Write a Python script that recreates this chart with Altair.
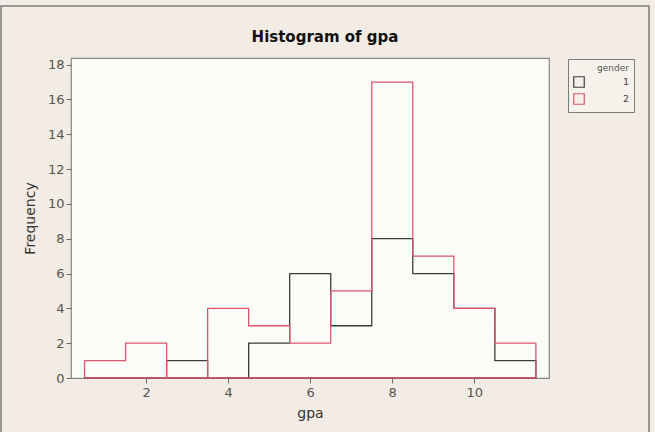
import altair as alt
import pandas as pd

# ---- data ----
bin_centers = [1, 2, 3, 4, 5, 6, 7, 8, 9, 10, 11]
bin_width = 1.0
gender_1 = [0, 0, 1, 0, 2, 6, 3, 8, 6, 4, 1]
gender_2 = [1, 2, 0, 4, 3, 2, 5, 17, 7, 4, 2]
genders = ["1", "2"]
x_ticks = [2, 4, 6, 8, 10]
y_ticks = [0, 2, 4, 6, 8, 10, 12, 14, 16, 18]

W, H = 478, 320

def outline(values, g):
    """Closed step outline of a histogram (left edge, value) rows."""
    rows = []
    lefts = [c - bin_width / 2 for c in bin_centers]
    right = bin_centers[-1] + bin_width / 2
    rows.append((lefts[0], 0))
    for l, v in zip(lefts, values):
        rows.append((l, v))
    rows.append((right, 0))
    rows.append((lefts[0], 0))
    return [dict(gpa=x, freq=y, gender=g, idx=i) for i, (x, y) in enumerate(rows)]

df = pd.DataFrame(outline(gender_1, "1") + outline(gender_2, "2"))

one = pd.DataFrame({"a": [0]})

frame_border = alt.Chart(one).mark_rect(
    fill="transparent", stroke="#7A7A7A", strokeWidth=1.5
).encode(
    x=alt.value(-70), x2=alt.value(578), y=alt.value(-52), y2=alt.value(H + 80)
)

lines = alt.Chart(df).mark_line(
    interpolate="step-after", strokeWidth=1.3
).encode(
    x=alt.X("gpa:Q", scale=alt.Scale(domain=[0.17, 11.82], nice=False, zero=False),
            axis=alt.Axis(values=x_ticks, title="gpa", format="d")),
    y=alt.Y("freq:Q", scale=alt.Scale(domain=[0, 18.38], nice=False),
            axis=alt.Axis(values=y_ticks, title="Frequency", format="d")),
    color=alt.Color("gender:N", scale=alt.Scale(domain=genders, range=["#3C3C3C", "#D9576C"]),
                    legend=alt.Legend(
                        title="gender", orient="none", legendX=497, legendY=1,
                        symbolType="square", symbolSize=110, symbolFillColor="transparent",
                        symbolStrokeWidth=1.2, labelAlign="right", labelOffset=44,
                        titleAnchor="end", titleAlign="right",
                        strokeColor="#7A7A7A", fillColor="#F5F1EB", padding=5,
                        titleFontSize=9, titleFontWeight="normal", titleColor="#555555",
                        titleFont="DejaVu Sans", labelFont="DejaVu Sans",
                        labelFontSize=9.5, labelColor="#444444", rowPadding=1,
                        titlePadding=3,
                    )),
    order="idx:Q",
    detail="gender:N",
)

chart = alt.layer(frame_border, lines).properties(
    width=W, height=H,
    title=alt.TitleParams("Histogram of gpa", font="DejaVu Sans", fontSize=15,
                          fontWeight="bold", color="#111111", anchor="middle",
                          frame="group", dx=15, offset=-40),
    autosize=alt.AutoSizeParams(type="none"),
    padding={"left": 71, "top": 58, "right": 106, "bottom": 54},
    background="#F2ECE4",
).configure_view(stroke="#858585", strokeWidth=1.2, fill="#FCFCF9").configure_axis(
    grid=False, domain=False, tickSize=5, tickColor="#6A6A6A", tickWidth=1,
    labelFont="DejaVu Sans", labelFontSize=13, labelColor="#555555",
    titleFont="DejaVu Sans", titleFontSize=14, titleFontWeight="normal", titleColor="#333333",
    labelPadding=2,
).configure_axisY(titlePadding=10).configure_axisX(titlePadding=7, labelPadding=3)

chart.save("out.html", embed_options={"renderer": "svg", "actions": False})
